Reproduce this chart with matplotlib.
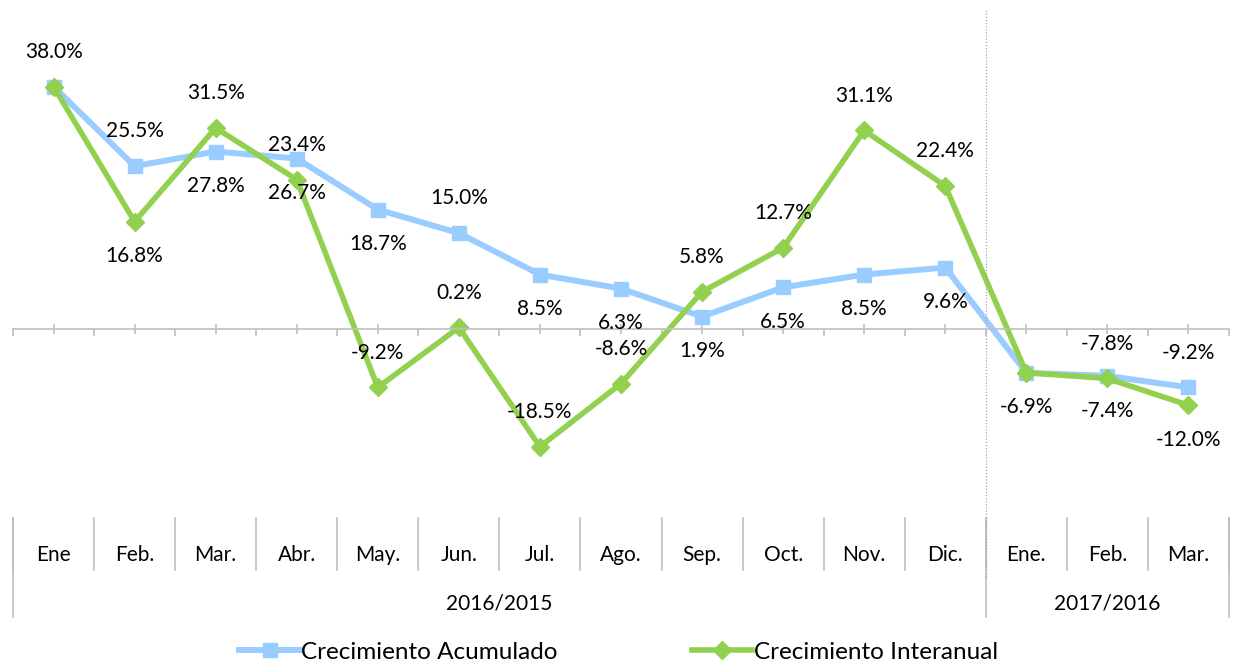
import matplotlib.pyplot as plt
import matplotlib.transforms as mtransforms
import numpy as np

plt.rcParams['font.family'] = ['Lato', 'DejaVu Sans']

months = ['Ene', 'Feb.', 'Mar.', 'Abr.', 'May.', 'Jun.', 'Jul.', 'Ago.', 'Sep.',
          'Oct.', 'Nov.', 'Dic.', 'Ene.', 'Feb.', 'Mar.']
groups = ['2016/2015', '2017/2016']
group_sizes = [12, 3]

acumulado = [38.0, 25.5, 27.8, 26.7, 18.7, 15.0, 8.5, 6.3, 1.9, 6.5, 8.5, 9.6, -6.9, -7.4, -9.2]
interanual = [38.0, 16.8, 31.5, 23.4, -9.2, 0.2, -18.5, -8.6, 5.8, 12.7, 31.1, 22.4, -6.9, -7.8, -12.0]

# label placement: 1 above, -1 below, 0 none
acum_pos = [1, 1, -1, -1, -1, 1, -1, -1, -1, -1, -1, -1, -1, -1, 1]
inter_pos = [0, -1, 1, 1, 1, 1, 1, 1, 1, 1, 1, 1, 0, 1, -1]

blue = '#99CCFF'
green = '#92D050'
grey = '#BFBFBF'

W, H = 1237, 664
fig = plt.figure(figsize=(W / 100, H / 100), dpi=100)
ax = fig.add_axes([13 / W, (H - 520) / H, (1229 - 13) / W, 510 / H])

x = np.arange(len(months))
ax.plot(x, acumulado, color=blue, lw=4.3, marker='s', ms=10, label='Crecimiento Acumulado')
ax.plot(x, interanual, color=green, lw=4.0, marker='D', ms=9, label='Crecimiento Interanual')

for xi, v, p in zip(x, acumulado, acum_pos):
    if p:
        ax.annotate(f'{v:.1f}%', (xi, v), xytext=(0, 25 * p), textcoords='offset points',
                    ha='center', va='center', fontsize=15)
for xi, v, p in zip(x, interanual, inter_pos):
    if p:
        ax.annotate(f'{v:.1f}%', (xi, v), xytext=(0, 25 * p), textcoords='offset points',
                    ha='center', va='center', fontsize=15)

ax.set_xlim(-0.5, len(months) - 0.5)
ax.set_ylim(-30, 50)

for s in ['top', 'right', 'left']:
    ax.spines[s].set_visible(False)
ax.spines['bottom'].set_position(('data', 0))
ax.spines['bottom'].set_color(grey)
ax.spines['bottom'].set_linewidth(1.2)
ax.set_yticks([])
ax.set_xticks(x)
ax.set_xticks(np.arange(-0.5, len(months)), minor=True)
ax.tick_params(axis='x', which='major', direction='inout', length=7, width=1.2,
               color=grey, labelbottom=False)
ax.tick_params(axis='x', which='minor', direction='out', length=5, width=1.2, color=grey)

# multi-level category axis
trans = mtransforms.blended_transform_factory(ax.transData, ax.transAxes)
for xi, m in zip(x, months):
    ax.text(xi, -0.069, m, transform=trans, ha='center', va='center', fontsize=15)
for b in np.arange(-0.5, len(months)):
    ax.plot([b, b], [0.004, -0.098], transform=trans, color=grey, lw=1.2, clip_on=False)

start = 0
for g, n in zip(groups, group_sizes):
    ax.text(start + n / 2 - 0.5, -0.163, g, transform=trans, ha='center', va='center', fontsize=15)
    start += n
edges = np.cumsum([0] + group_sizes) - 0.5
for b in edges:
    ax.plot([b, b], [0.004, -0.19], transform=trans, color=grey, lw=1.2, clip_on=False)

# dotted separator between years
ax.plot([11.5, 11.5], [1.0, -0.112], transform=trans, color='#A6A6A6', lw=0.9,
        ls=(0, (1, 1.5)), clip_on=False)

fig.legend(loc='center', bbox_to_anchor=(0.5, 1 - 652 / H), ncol=2, frameon=False,
           fontsize=17.5, handlelength=2.5, handletextpad=0.05, columnspacing=5.5)

fig.savefig('out.png', dpi=100, facecolor='white')
